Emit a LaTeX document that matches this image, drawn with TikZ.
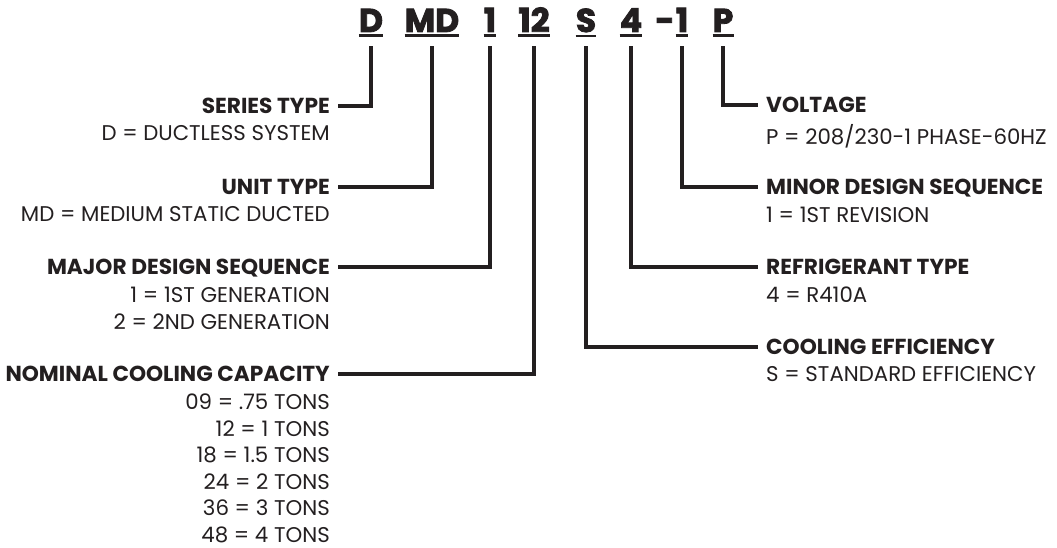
\documentclass[tikz,border=0pt]{standalone}
\usepackage{fontspec}
\setmainfont{Poppins}
\newfontfamily\heavyfont{Poppins}[BoldFeatures={FakeBold=2.5}]
\usetikzlibrary{positioning}

\definecolor{ink}{HTML}{231F20}

\tikzset{
  code/.style={font=\heavyfont\bfseries\fontsize{33}{35}\selectfont, text=ink, inner sep=0pt, anchor=base},
  uline/.style={line width=2.4pt, draw=ink},
  head/.style={font=\bfseries\fontsize{21.7}{27}\selectfont, text=ink, inner xsep=8pt, inner ysep=0pt, text height=15pt, text depth=0pt},
  desc/.style={font=\fontsize{21.3}{27}\selectfont, text=ink, inner xsep=8pt, inner ysep=0pt},
  link/.style={line width=4.5pt, draw=ink}
}

\begin{document}
\begin{tikzpicture}[x=1pt, y=-1pt]
  \fill[white] (0,0) rectangle (1057,548);
  \useasboundingbox (0,0) rectangle (1057,548);

  % model code
  \node[code] (codeSeries) at (371,32) {D};
  \node[code] (codeUnit)   at (432,32) {MD};
  \node[code] (codeMajor)  at (490,32) {1};
  \node[code] (codeCap)    at (534,32) {12};
  \node[code] (codeEff)    at (586,32) {S};
  \node[code] (codeRef)    at (631,32) {4};
  \node[code] (codeDash)   at (665,32) {-};
  \node[code] (codeMinor)  at (682,32) {1};
  \node[code] (codeVolt)   at (723,32) {P};
  \foreach \n in {codeSeries,codeUnit,codeMajor,codeCap,codeEff,codeRef,codeMinor,codeVolt}
    \draw[uline] ([yshift=-3.5pt]\n.south west) -- ([yshift=-3.5pt]\n.south east);

  % left side
  \node[head, anchor=east] (series)  at (338,106) {SERIES TYPE};
  \node[desc, below=12pt of series.south east, anchor=north east] (seriesD) {D = DUCTLESS SYSTEM};
  \node[head, anchor=east] (unit)    at (338,187) {UNIT TYPE};
  \node[desc, below=12pt of unit.south east, anchor=north east] (unitD) {MD = MEDIUM STATIC DUCTED};
  \node[head, anchor=east] (major)   at (338,267) {MAJOR DESIGN SEQUENCE};
  \node[desc, below=12pt of major.south east, anchor=north east, align=right] (majorD)
    {1 = 1ST GENERATION\\ 2 = 2ND GENERATION};
  \node[head, anchor=east] (nominal) at (338,374) {NOMINAL COOLING CAPACITY};
  \node[desc, font=\fontsize{21.3}{26.5}\selectfont, below=12pt of nominal.south east, anchor=north east, align=right] (nominalD)
    {09 = .75 TONS\\ 12 = 1 TONS\\ 18 = 1.5 TONS\\ 24 = 2 TONS\\ 36 = 3 TONS\\ 48 = 4 TONS};

  % right side
  \node[head, anchor=west] (voltage) at (758,105) {VOLTAGE};
  \node[desc, below=12pt of voltage.south west, anchor=north west] (voltageD) {P = 208/230-1 PHASE-60HZ};
  \node[head, anchor=west] (minor)   at (758,187) {MINOR DESIGN SEQUENCE};
  \node[desc, below=12pt of minor.south west, anchor=north west] (minorD) {1 = 1ST REVISION};
  \node[head, anchor=west] (refrig)  at (758,267) {REFRIGERANT TYPE};
  \node[desc, below=12pt of refrig.south west, anchor=north west] (refrigD) {4 = R410A};
  \node[head, anchor=west] (cooling) at (758,347) {COOLING EFFICIENCY};
  \node[desc, below=12pt of cooling.south west, anchor=north west] (coolingD) {S = STANDARD EFFICIENCY};

  % connectors
  \draw[link] ([yshift=-14pt]codeSeries.south) |- (series.east);
  \draw[link] ([yshift=-14pt]codeUnit.south)   |- (unit.east);
  \draw[link] ([yshift=-14pt]codeMajor.south)  |- (major.east);
  \draw[link] ([yshift=-14pt]codeCap.south)    |- (nominal.east);
  \draw[link] ([yshift=-14pt]codeEff.south)    |- (cooling.west);
  \draw[link] ([yshift=-14pt]codeRef.south)    |- (refrig.west);
  \draw[link] ([yshift=-14pt]codeMinor.south)  |- (minor.west);
  \draw[link] ([yshift=-14pt]codeVolt.south)   |- (voltage.west);
\end{tikzpicture}
\end{document}
